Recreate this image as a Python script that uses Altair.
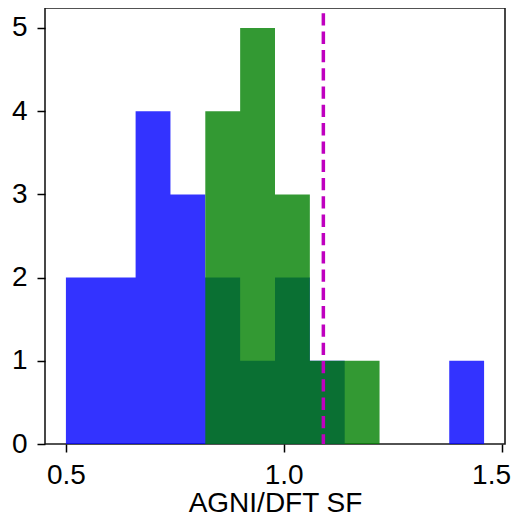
import altair as alt
import pandas as pd

# Histogram bin edges (shared by both series)
edges = [0.50, 0.58, 0.66, 0.74, 0.82, 0.90, 0.98, 1.06, 1.14, 1.22, 1.30, 1.38, 1.46]
blue_counts = [2, 2, 4, 3, 2, 1, 2, 1, 0, 0, 0, 1]
green_counts = [0, 0, 0, 0, 4, 5, 3, 1, 1, 0, 0, 0]
ref_line = [1.091]
x_ticks = [0.5, 1.0, 1.5]
y_ticks = [0, 1, 2, 3, 4, 5]

FONT = "Liberation Sans Narrow, Arial Narrow, Liberation Sans, Arial, sans-serif"

def step_df(counts):
    # step-after outline: one point per left edge, plus the final right edge
    return pd.DataFrame({
        "edge": edges,
        "count": list(counts) + [counts[-1]],
    })

blue_df = step_df(blue_counts)
green_df = step_df(green_counts)

xscale = alt.Scale(domain=[0.452, 1.508], nice=False, zero=False)
yscale = alt.Scale(domain=[0, 5.24], nice=False)

xaxis = alt.Axis(values=x_ticks, format=".1f", title="AGNI/DFT SF", grid=False,
                 domain=False, tickSize=8, tickWidth=1.5, tickColor="#000",
                 labelFontSize=28, labelFont=FONT, labelColor="#000",
                 labelBaseline="alphabetic", labelPadding=31,
                 labelFlush=6, labelFlushOffset=9,
                 titleFontSize=28, titleFont=FONT, titleFontWeight="normal",
                 titleColor="#000", titleBaseline="alphabetic", titleY=67)
yaxis = alt.Axis(values=y_ticks, format="d", title=None, grid=False,
                 domain=False, tickSize=8, tickWidth=1.5, tickColor="#000",
                 labelFontSize=28, labelFont=FONT, labelColor="#000",
                 labelPadding=10)

blue = alt.Chart(blue_df).mark_area(
    color="#0000ff", opacity=0.8, interpolate="step-after"
).encode(
    x=alt.X("edge:Q", scale=xscale, axis=xaxis),
    y=alt.Y("count:Q", scale=yscale, axis=yaxis),
)

green = alt.Chart(green_df).mark_area(
    color="#008000", opacity=0.8, interpolate="step-after"
).encode(
    x=alt.X("edge:Q", scale=xscale),
    y=alt.Y("count:Q", scale=yscale),
)

rule = alt.Chart(pd.DataFrame({"x": ref_line})).mark_rule(
    color="#bf00bf", strokeWidth=3.5, strokeDash=[12.3, 6], strokeDashOffset=13
).encode(
    x=alt.X("x:Q", scale=xscale),
)

chart = alt.layer(blue, green, rule).properties(
    width=460, height=436,
    autosize=alt.AutoSizeParams(type="none"),
    padding={"left": 37, "top": 0, "right": 7, "bottom": 75},
).configure_view(
    stroke="#1a1a1a", strokeWidth=1.6
)

chart.save("out.html", embed_options={"renderer": "svg", "actions": False})
